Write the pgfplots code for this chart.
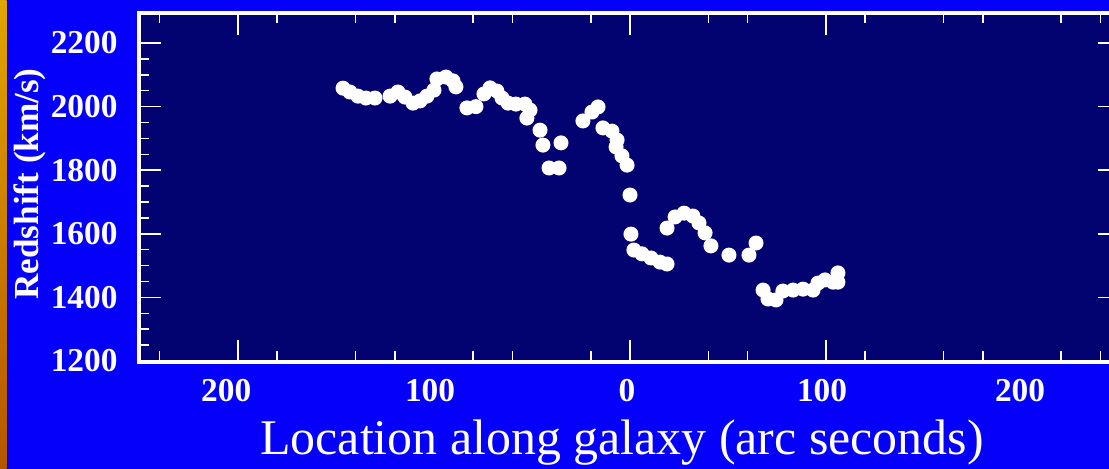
\documentclass[border=0pt]{standalone}
\usepackage{fontspec}
\setmainfont{Liberation Serif}
\usepackage{pgfplots}
\pgfplotsset{compat=1.18}
\definecolor{bgblue}{RGB}{4,0,250}
\definecolor{plotnavy}{RGB}{2,2,112}
\definecolor{stripA}{RGB}{225,165,0}
\definecolor{stripB}{RGB}{180,85,0}
\begin{document}
\begin{tikzpicture}
\path[use as bounding box] (0,0) rectangle (11.09,4.69);
\clip (0,0) rectangle (11.09,4.69);
\fill[bgblue] (0,0) rectangle (11.09,4.69);
\shade[top color=stripA, bottom color=stripB] (0,0) rectangle (0.065,4.69);
\fill[plotnavy] (1.39,1.07) rectangle (11.20,4.56);
\begin{axis}[
  at={(1.39cm,1.07cm)}, anchor=south west,
  width=9.81cm, height=3.49cm, scale only axis,
  xmin=-250.5, xmax=250, ymin=1196.9, ymax=2294.5,
  axis line style={white, line width=0.4mm},
  tick style={white, line width=0.15mm},
  major tick length=2.2mm, minor tick length=1.05mm,
  xtick={-200,0,100}, xticklabels={},
  minor xtick={-240,-180,-140,-120,-80,-60,-20,40,60,120,160,180,220,240},
  extra x ticks={-206,-102,-1.5,98,199},
  extra x tick labels={200,100,0,100,200},
  extra x tick style={major tick length=0pt},
  ytick={1200,1400,1600,1800,2000,2200},
  yticklabels={1200,1400,1600,1800,2000,2200},
  minor ytick={1250,1300,1350,1450,1500,1550,1650,1700,1750,1850,1900,1950,2050,2100,2150},
  ticklabel style={white, font=\bfseries\fontsize{9.5}{10}\selectfont},
  yticklabel style={xshift=-0.9mm},
  xticklabel style={yshift=-0.5mm},
]
\addplot[only marks, mark=*, mark size=0.68mm, draw=white, fill=white, mark options={draw=white, fill=white}] coordinates {
(-146.4,2058) (-142.9,2046) (-138.8,2033) (-134.7,2027) (-130.1,2027)
(-122.4,2033) (-118.4,2046) (-114.8,2030) (-110.7,2011) (-107.1,2018)
(-103.6,2033) (-100.0,2052) (-98.5,2087) (-93.9,2093) (-90.3,2081)
(-88.8,2062) (-83.2,1996) (-78.6,2000) (-74.5,2040) (-71.4,2059)
(-67.9,2049) (-65.3,2027) (-62.2,2011) (-58.2,2008) (-53.6,2008)
(-51.0,1989) (-52.6,1964) (-45.9,1926) (-44.4,1879) (-35.2,1886)
(-41.3,1807) (-36.2,1807) (-24.0,1955) (-19.4,1983) (-16.3,1999)
(-13.8,1933) (-9.2,1923) (-6.6,1895) (-7.1,1873) (-4.1,1845)
(-1.5,1816) (0.0,1722) (0.5,1599) (2.0,1549) (6.1,1537)
(10.7,1524) (15.3,1511) (18.9,1505) (18.9,1618) (23.0,1653)
(27.6,1665) (32.1,1656) (35.2,1634) (38.3,1603) (41.3,1562)
(50.5,1533) (60.7,1533) (64.3,1571) (67.9,1423) (70.4,1395)
(74.5,1392) (78.0,1420) (83.2,1423) (88.3,1426) (93.4,1423)
(95.9,1445) (99.5,1455) (103.6,1448) (106.1,1477) (106.1,1448)
};
\end{axis}
\node[white, anchor=base, font=\fontsize{14.2}{16}\selectfont] at (6.22,0.14) {Location along galaxy (arc seconds)};
\node[white, anchor=base, rotate=90, font=\bfseries\fontsize{10}{12}\selectfont] at (0.38,2.85) {Redshift (km/s)};
\end{tikzpicture}
\end{document}
